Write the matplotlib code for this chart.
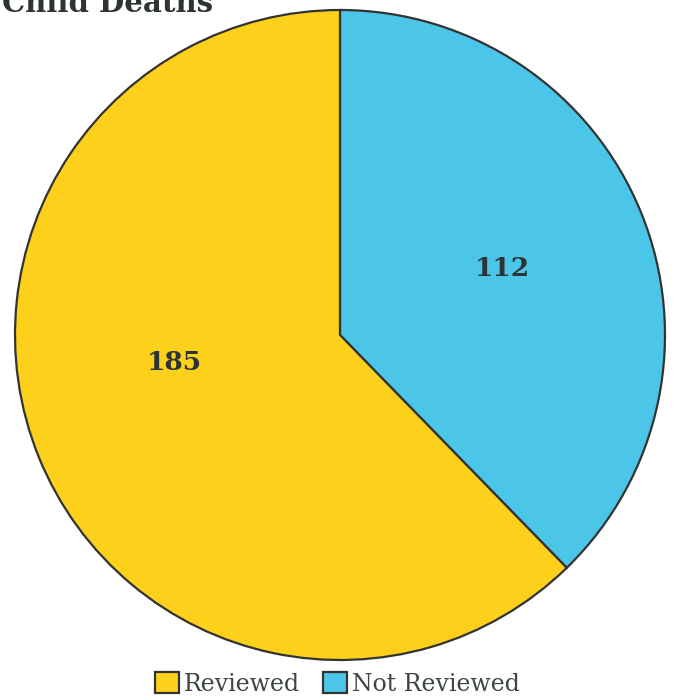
import matplotlib.pyplot as plt

labels = ['Reviewed', 'Not Reviewed']
values = [185, 112]
colors = ['#FCD01B', '#4CC6E8']
title = 'Child Deaths'

text_color = '#2d3436'

fig = plt.figure(figsize=(6.75, 7), dpi=100)
ax = fig.add_axes([15/675, 40/700, 650/675, 650/700])

# Not Reviewed starts at the top going clockwise, so feed it reversed
wedges, texts, autotexts = ax.pie(
    values[::-1], colors=colors[::-1], startangle=90, counterclock=False,
    radius=1, autopct=lambda p: f'{round(p * sum(values) / 100)}',
    pctdistance=0.54,
    wedgeprops=dict(edgecolor='#333333', linewidth=1.6),
    textprops=dict(fontsize=19, fontweight='bold', color=text_color,
                   family='DejaVu Serif'))
ax.set_xlim(-1.0, 1.0)
ax.set_ylim(-1.0, 1.0)
ax.set_aspect('equal')
ax.axis('off')

# the 185 label sits a bit higher than its wedge's midpoint
x, y = autotexts[1].get_position()
autotexts[1].set_position((x - 0.01, y + 0.12))

fig.text(213/675, 1 - 12/700, title, ha='right', va='baseline',
         fontsize=21, fontweight='bold', color=text_color, family='DejaVu Serif')

leg = fig.legend(wedges[::-1], labels, loc='center', bbox_to_anchor=(0.5, 1 - 684/700),
                 ncol=2, frameon=False, handlelength=1.0, handleheight=1.0,
                 handletextpad=0.2, columnspacing=1.0, borderpad=0.2,
                 prop=dict(family='DejaVu Serif', size=17))
for t in leg.get_texts():
    t.set_color('#3d4548')

fig.savefig('out.png', dpi=100)
